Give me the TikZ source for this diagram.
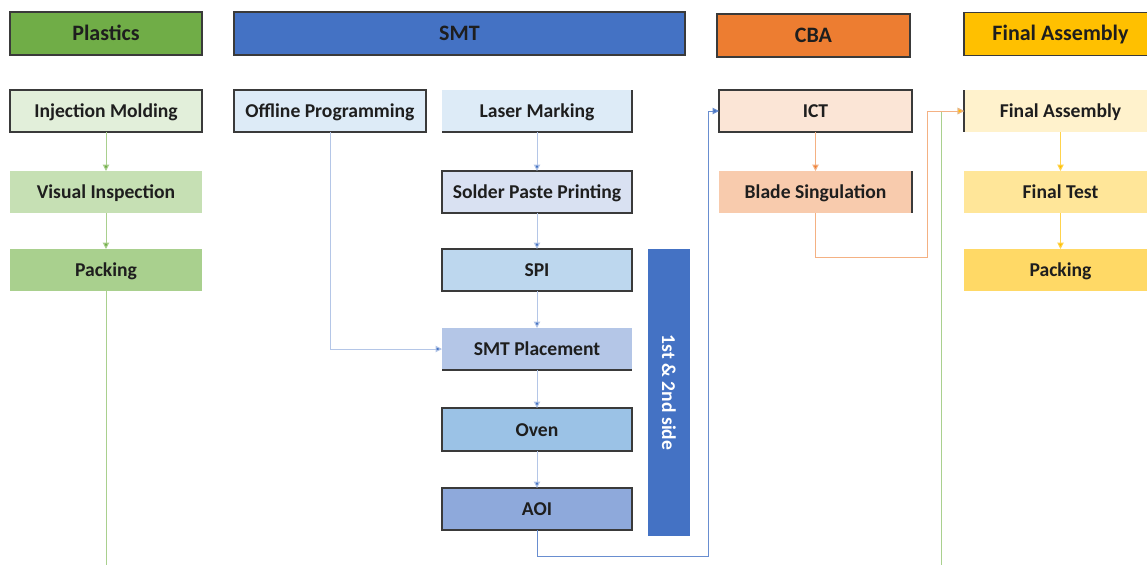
\documentclass[tikz,border=0pt]{standalone}
\usepackage{fontspec}
\setmainfont{Carlito}
\usetikzlibrary{arrows.meta}
\definecolor{gHead}{HTML}{70AD47}
\definecolor{bHead}{HTML}{4472C4}
\definecolor{oHead}{HTML}{ED7D31}
\definecolor{yHead}{HTML}{FFC000}
\definecolor{g1}{HTML}{E2EFDA}
\definecolor{g2}{HTML}{C6E0B4}
\definecolor{g3}{HTML}{A9D08E}
\definecolor{b1}{HTML}{DDEBF7}
\definecolor{b2}{HTML}{D9E1F2}
\definecolor{b3}{HTML}{BDD7EE}
\definecolor{b4}{HTML}{B4C6E7}
\definecolor{b5}{HTML}{9BC2E6}
\definecolor{b6}{HTML}{8EA9DB}
\definecolor{o1}{HTML}{FBE5D6}
\definecolor{o2}{HTML}{F8CBAD}
\definecolor{oLine}{HTML}{F4B183}
\definecolor{y1}{HTML}{FFF2CC}
\definecolor{y2}{HTML}{FFE699}
\definecolor{y3}{HTML}{FFD966}
\definecolor{txt}{HTML}{1E1E1E}
\definecolor{bord}{HTML}{3A3A3A}
\tikzset{
  base/.style={rectangle, inner sep=0pt, outer sep=0pt, text=txt},
  box/.style={base, minimum width=96pt, minimum height=21pt,
    font=\bfseries\fontsize{9.8}{11}\selectfont, text height=8pt, text depth=1.3pt},
  hdr/.style={base, minimum width=96pt, draw=bord, line width=0.7pt, minimum height=21.5pt,
    font=\bfseries\fontsize{11}{13}\selectfont, text height=9pt, text depth=2.1pt},
  sidebar/.style={base, fill=bHead, minimum width=21pt, minimum height=143.5pt,
    font=\bfseries\fontsize{9.8}{11}\selectfont, text=white},
  bd/.style={draw=bord, line width=0.6pt},
  conn/.style={line width=0.5pt, -{Triangle[length=3.2pt,width=3.2pt,fill=#1]}},
}
\begin{document}
\begin{tikzpicture}[x=0.5pt, y=-0.5pt]
\useasboundingbox (0,0) rectangle (1147,564);
\clip (0,0) rectangle (1147,564);
% headers
\node[hdr, fill=gHead] (hP) at (106,33.5) {Plastics};
\node[hdr, fill=bHead, minimum width=225.5pt] (hS) at (459.5,33.5) {SMT};
\node[hdr, fill=oHead, minimum width=96.5pt] (hC) at (813.5,35.5) {CBA};
\node[hdr, fill=yHead, minimum width=96.5pt] (hF) at (1060.5,34) {Final Assembly};
% plastics
\node[box, bd, fill=g1] (inj) at (106,111) {Injection Molding};
\node[box, fill=g2] (vis) at (106,192) {Visual Inspection};
\node[box, fill=g3] (pk1) at (106,270) {Packing};
% SMT
\node[box, bd, fill=b1] (off) at (330,111) {Offline Programming};
\node[box, fill=b1, minimum width=95pt] (las) at (537,111) {Laser Marking};
\node[box, bd, fill=b2, minimum width=95pt] (sol) at (537,192) {Solder Paste Printing};
\node[box, bd, fill=b3, minimum width=95pt] (spi) at (537,270) {SPI};
\node[box, fill=b4, minimum width=95pt] (smt) at (537,349) {SMT Placement};
\node[box, bd, fill=b5, minimum width=95pt, minimum height=21.5pt] (ov) at (537,429.5) {Oven};
\node[box, bd, fill=b6, minimum width=95pt] (aoi) at (537,509) {AOI};
\node[sidebar] (side) at (669,392.5) {\rotatebox{-90}{1st \& 2nd side}};
% CBA
\node[box, bd, fill=o1, minimum width=96.5pt] (ict) at (815.5,111) {ICT};
\node[box, fill=o2, minimum width=96.5pt] (bla) at (815.5,192) {Blade Singulation};
% Final assembly
\node[box, fill=y1, minimum width=96.5pt] (fa) at (1060.5,111) {Final Assembly};
\node[box, fill=y2, minimum width=96.5pt] (ft) at (1060.5,192) {Final Test};
\node[box, fill=y3, minimum width=96.5pt] (pk2) at (1060.5,270) {Packing};
% partial borders
\draw[bord, line width=0.6pt] (las.south west) -- (las.south east) -- (las.north east);
\draw[bord, line width=0.6pt] (smt.south west) -- (smt.south east);
\draw[bord, line width=0.6pt] (bla.north east) -- (bla.south east);
\draw[bord, line width=0.6pt] (fa.north west) -- (fa.south west);
% turn points
\coordinate (aoiturn) at (708,556);
\coordinate (bturn) at (927,257);
\coordinate (pturn) at (941,600);
% connectors
\draw[conn=gHead, draw=g3] (inj) -- (vis);
\draw[conn=gHead, draw=g3] (vis) -- (pk1);
\draw[conn=yHead, draw=g3] (pk1.south) |- (pturn) |- (fa.west);
\draw[conn=bHead, draw=b4] (off.south) |- (smt.west);
\draw[conn=bHead, draw=b4] (las) -- (sol);
\draw[conn=bHead, draw=b4] (sol) -- (spi);
\draw[conn=bHead, draw=b4] (spi) -- (smt);
\draw[conn=bHead, draw=b4] (smt) -- (ov);
\draw[conn=bHead, draw=b4] (ov) -- (aoi);
\draw[conn=bHead, draw=bHead!80] (aoi.south) |- (aoiturn) |- (ict.west);
\draw[conn=oHead, draw=oLine] (ict) -- (bla);
\draw[conn=yHead, draw=oLine] (bla.south) |- (bturn) |- (fa.west);
\draw[conn=yHead, draw=yHead!70] (fa) -- (ft);
\draw[conn=yHead, draw=yHead!70] (ft) -- (pk2);
\end{tikzpicture}
\end{document}
